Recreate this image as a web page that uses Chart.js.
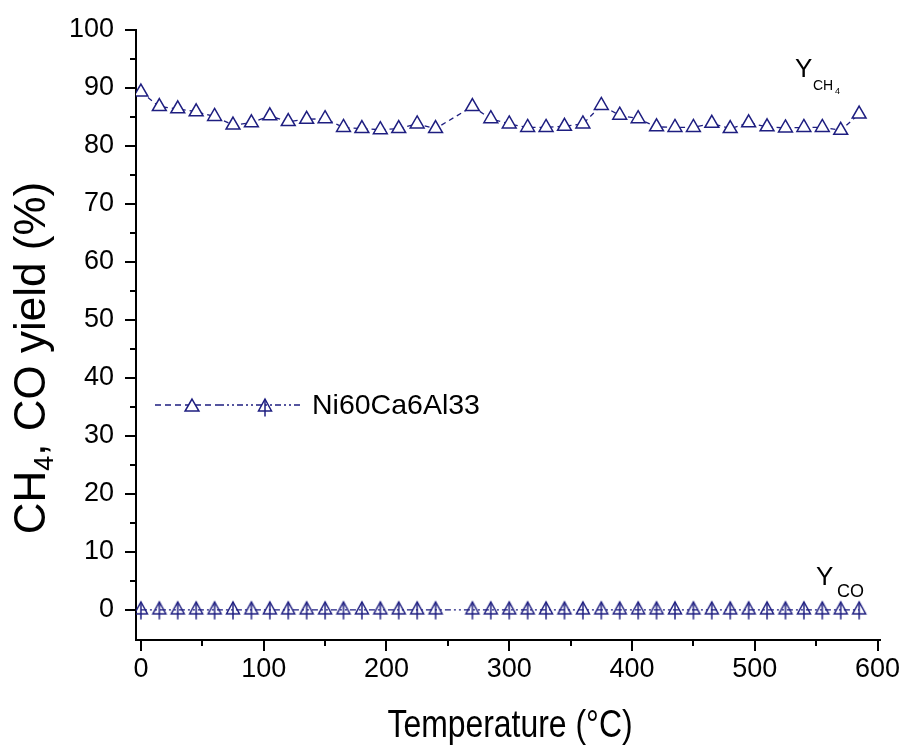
<!DOCTYPE html>
<html>
<head>
<meta charset="utf-8">
<script src="https://cdn.jsdelivr.net/npm/chart.js@4.4.1/dist/chart.umd.min.js"></script>
<style>
  html, body { margin: 0; padding: 0; background: #fff; }
</style>
</head>
<body>
<canvas id="canvas" width="907" height="751"></canvas>
<script>
// temperatures (°C) - no point at 255
var temps = [0, 15, 30, 45, 60, 75, 90, 105, 120, 135, 150, 165, 180, 195, 210, 225, 240,
             270, 285, 300, 315, 330, 345, 360, 375, 390, 405, 420, 435, 450, 465, 480, 495,
             510, 525, 540, 555, 570, 585];
var ch4Yield = [89.3, 86.8, 86.4, 85.9, 85.1, 83.6, 84.0, 85.2, 84.2, 84.6, 84.7, 83.2, 83.0,
                82.8, 83.0, 83.8, 83.0,
                86.8, 84.7, 83.8, 83.2, 83.2, 83.4, 83.8, 87.0, 85.3, 84.7, 83.3, 83.2, 83.2,
                83.9, 83.0, 84.0, 83.3, 83.1, 83.2, 83.2, 82.7, 85.5];
var coYield = [0, 0, 0, 0, 0, 0, 0, 0, 0, 0, 0, 0, 0, 0, 0, 0, 0,
               0, 0, 0, 0, 0, 0, 0, 0, 0, 0, 0, 0, 0, 0, 0, 0, 0, 0, 0, 0, 0, 0];

var xTicks = [0, 100, 200, 300, 400, 500, 600];
var xMinorTicks = [50, 150, 250, 350, 450, 550];
var yTicks = [0, 10, 20, 30, 40, 50, 60, 70, 80, 90, 100];
var yMinorTicks = [5, 15, 25, 35, 45, 55, 65, 75, 85, 95];

var seriesName = 'Ni60Ca6Al33';
var navy = '#1e1e80';
var FONT = "'Liberation Sans', Arial, sans-serif";

function toPoints(xs, ys) {
  return xs.map(function (x, i) { return { x: x, y: ys[i] }; });
}

// triangle with a vertical bar, like the Origin symbol for the CO series
function makeCoMarker() {
  var c = document.createElement('canvas');
  c.width = 18; c.height = 20;
  var g = c.getContext('2d');
  g.strokeStyle = navy;
  g.lineWidth = 1.5;
  g.beginPath();
  g.moveTo(9, 2);
  g.lineTo(15.5, 14);
  g.lineTo(2.5, 14);
  g.closePath();
  g.stroke();
  g.beginPath();
  g.moveTo(9, 2);
  g.lineTo(9, 19.5);
  g.stroke();
  return c;
}
var coMarker = makeCoMarker();

function drawTriangle(ctx, x, y, r) {
  ctx.beginPath();
  ctx.moveTo(x, y - r);
  ctx.lineTo(x + r * 0.866, y + r / 2);
  ctx.lineTo(x - r * 0.866, y + r / 2);
  ctx.closePath();
  ctx.fillStyle = '#fff';
  ctx.fill();
  ctx.stroke();
}

var decor = {
  id: 'decor',
  afterDraw: function (chart) {
    var ctx = chart.ctx;
    var xs = chart.scales.x, ys = chart.scales.y;
    var area = chart.chartArea;
    ctx.save();
    // ticks
    ctx.strokeStyle = '#000';
    ctx.lineWidth = 2;
    ctx.beginPath();
    xTicks.forEach(function (v) {
      var p = Math.round(xs.getPixelForValue(v));
      ctx.moveTo(p, area.bottom); ctx.lineTo(p, area.bottom + 11);
    });
    xMinorTicks.forEach(function (v) {
      var p = Math.round(xs.getPixelForValue(v));
      ctx.moveTo(p, area.bottom); ctx.lineTo(p, area.bottom + 6);
    });
    yTicks.forEach(function (v) {
      var p = Math.round(ys.getPixelForValue(v));
      ctx.moveTo(area.left, p); ctx.lineTo(area.left - 11, p);
    });
    yMinorTicks.forEach(function (v) {
      var p = Math.round(ys.getPixelForValue(v));
      ctx.moveTo(area.left, p); ctx.lineTo(area.left - 6, p);
    });
    ctx.stroke();

    ctx.fillStyle = '#000';
    ctx.textBaseline = 'alphabetic';
    ctx.textAlign = 'left';

    // y title with subscript
    ctx.save();
    ctx.translate(45, 358);
    ctx.rotate(-Math.PI / 2);
    var big = '44px ' + FONT, small = '27px ' + FONT;
    ctx.font = big;
    var w1 = ctx.measureText('CH').width;
    var w3 = ctx.measureText(', CO yield (%)').width;
    ctx.font = small;
    var w2 = ctx.measureText('4').width;
    var s = -(w1 + w2 + w3) / 2;
    ctx.font = big;
    ctx.fillText('CH', s, 0);
    ctx.font = small;
    ctx.fillText('4', s + w1, 8);
    ctx.font = big;
    ctx.fillText(', CO yield (%)', s + w1 + w2, 0);
    ctx.restore();

    // x title (narrow face)
    ctx.save();
    ctx.translate(510, 737);
    ctx.scale(0.84, 1);
    ctx.font = '38px ' + FONT;
    ctx.textAlign = 'center';
    ctx.fillText('Temperature (°C)', 0, 0);
    ctx.restore();

    // series labels
    ctx.font = '26px ' + FONT;
    ctx.fillText('Y', 795, 77);
    ctx.font = '14px ' + FONT;
    ctx.fillText('CH', 813, 90);
    ctx.font = '9px ' + FONT;
    ctx.fillText('4', 835, 94);

    ctx.font = '26px ' + FONT;
    ctx.fillText('Y', 816, 585);
    ctx.font = '18px ' + FONT;
    ctx.fillText('CO', 837, 597);

    // legend
    var ly = 405;
    ctx.strokeStyle = navy;
    ctx.lineWidth = 1.3;
    ctx.setLineDash([6, 4]);
    ctx.beginPath(); ctx.moveTo(155, ly); ctx.lineTo(218, ly); ctx.stroke();
    ctx.setLineDash([6, 3, 2, 3, 2, 3]);
    ctx.beginPath(); ctx.moveTo(218, ly); ctx.lineTo(303, ly); ctx.stroke();
    ctx.setLineDash([]);
    ctx.lineWidth = 1.5;
    drawTriangle(ctx, 192, ly + 2, 8);
    ctx.drawImage(coMarker, 265 - 9, ly - 8);
    ctx.fillStyle = '#000';
    ctx.font = '28.5px ' + FONT;
    ctx.textBaseline = 'middle';
    ctx.fillText(seriesName, 312, ly + 1);
    ctx.restore();
  }
};

new Chart(document.getElementById('canvas'), {
  type: 'line',
  data: {
    datasets: [{
      label: 'Y CH4',
      data: toPoints(temps, ch4Yield),
      borderColor: navy,
      borderWidth: 1.3,
      borderDash: [5, 4],
      pointStyle: 'triangle',
      pointRadius: 8,
      pointBorderWidth: 1.5,
      pointBorderColor: navy,
      pointBackgroundColor: '#fff',
      tension: 0
    }, {
      label: 'Y CO',
      data: toPoints(temps, coYield),
      borderColor: navy,
      borderWidth: 1.3,
      borderDash: [6, 3, 2, 3, 2, 3],
      pointStyle: coMarker,
      pointRadius: 8,
      tension: 0
    }]
  },
  options: {
    responsive: false,
    animation: false,
    layout: { padding: { top: 30, right: 27, left: 0, bottom: 0 } },
    plugins: { legend: { display: false }, tooltip: { enabled: false } },
    scales: {
      x: {
        type: 'linear',
        min: -4,
        max: 602,
        afterBuildTicks: function (s) { s.ticks = xTicks.map(function (v) { return { value: v }; }); },
        afterFit: function (s) { s.height = 111; s.paddingLeft = 0; s.paddingRight = 0; },
        grid: { display: false, drawTicks: false },
        border: { display: true, color: '#000', width: 2 },
        ticks: { color: '#000', padding: 13, font: { family: FONT, size: 27 }, maxRotation: 0 }
      },
      y: {
        min: -5.2,
        max: 100,
        afterBuildTicks: function (s) { s.ticks = yTicks.map(function (v) { return { value: v }; }); },
        afterFit: function (s) { s.width = 136; s.paddingTop = 0; s.paddingBottom = 0; },
        grid: { display: false, drawTicks: false },
        border: { display: true, color: '#000', width: 2 },
        ticks: { color: '#000', padding: 22, font: { family: FONT, size: 27 } }
      }
    }
  },
  plugins: [decor]
});
</script>
</body>
</html>
